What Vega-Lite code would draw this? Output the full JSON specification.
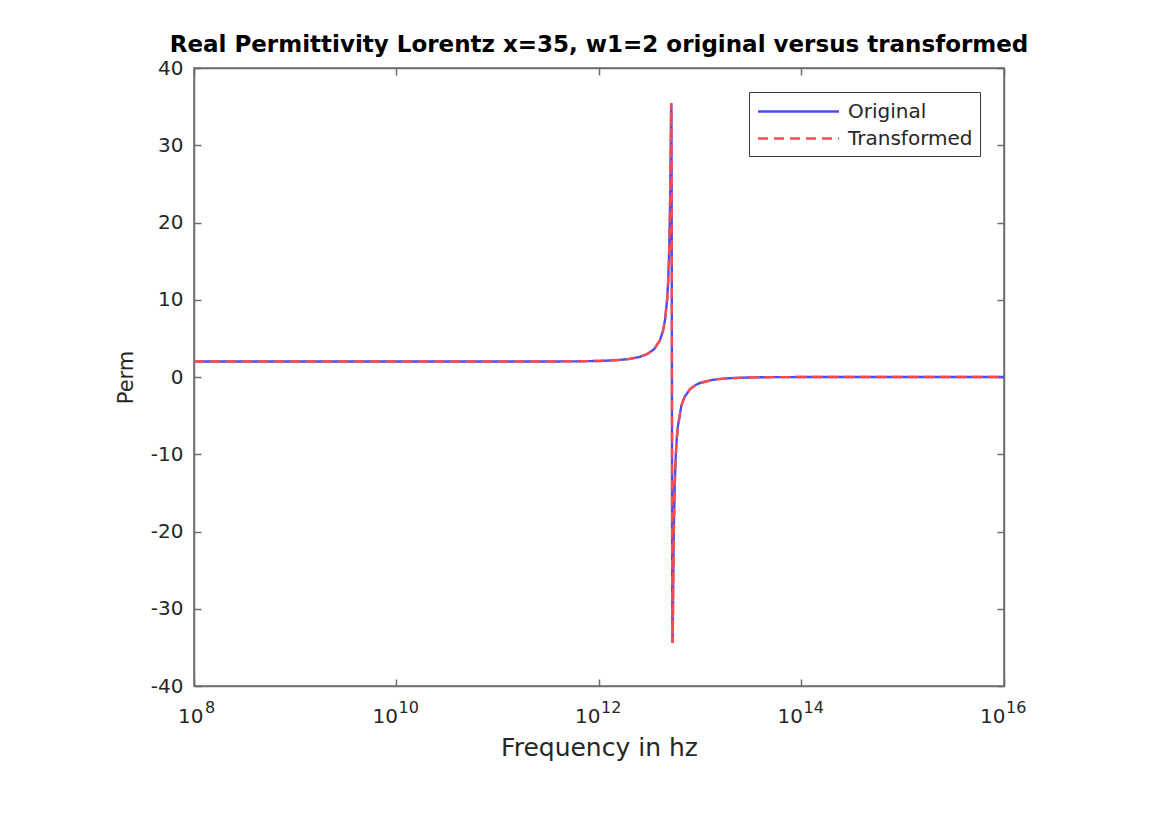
{
  "$schema": "https://vega.github.io/schema/vega-lite/v6.json",
  "width": 810,
  "height": 618,
  "autosize": {"type": "none"},
  "padding": {"left": 194, "top": 68, "right": 147, "bottom": 154},
  "background": "white",
  "config": {
    "font": "DejaVu Sans",
    "view": {"stroke": "#6e6e6e", "strokeWidth": 1.5},
    "axis": {
      "grid": false,
      "domainColor": "#6e6e6e",
      "domainWidth": 1.5,
      "tickColor": "#6e6e6e",
      "tickWidth": 1.5,
      "labelColor": "#262626",
      "titleColor": "#262626",
      "labelFont": "DejaVu Sans",
      "titleFont": "DejaVu Sans",
      "labelFontSize": 20,
      "titleFontSize": 22,
      "titleFontWeight": "normal"
    }
  },
  "title": {
    "text": "Real Permittivity Lorentz x=35, w1=2 original versus transformed",
    "font": "DejaVu Sans",
    "fontSize": 23,
    "fontWeight": "bold",
    "color": "#000000",
    "anchor": "middle",
    "offset": 1
  },
  "datasets": {
    "perm": [
      {"f": 1e8, "Original": 2.0, "Transformed": 2.0},
      {"f": 1e9, "Original": 2.0, "Transformed": 2.0},
      {"f": 1e10, "Original": 2.0, "Transformed": 2.0},
      {"f": 3e10, "Original": 2.0001, "Transformed": 2.0001},
      {"f": 1e11, "Original": 2.0007, "Transformed": 2.0007},
      {"f": 3e11, "Original": 2.0066, "Transformed": 2.0066},
      {"f": 6e11, "Original": 2.0265, "Transformed": 2.0265},
      {"f": 1e12, "Original": 2.075, "Transformed": 2.075},
      {"f": 1.5e12, "Original": 2.178, "Transformed": 2.178},
      {"f": 2e12, "Original": 2.339, "Transformed": 2.339},
      {"f": 2.5e12, "Original": 2.587, "Transformed": 2.587},
      {"f": 3e12, "Original": 2.972, "Transformed": 2.972},
      {"f": 3.5e12, "Original": 3.6, "Transformed": 3.6},
      {"f": 4e12, "Original": 4.756, "Transformed": 4.756},
      {"f": 4.3e12, "Original": 6.045, "Transformed": 6.045},
      {"f": 4.5e12, "Original": 7.475, "Transformed": 7.475},
      {"f": 4.7e12, "Original": 9.905, "Transformed": 9.905},
      {"f": 4.8e12, "Original": 11.89, "Transformed": 11.89},
      {"f": 4.9e12, "Original": 14.88, "Transformed": 14.88},
      {"f": 5.0e12, "Original": 19.81, "Transformed": 19.81},
      {"f": 5.05e12, "Original": 23.58, "Transformed": 23.58},
      {"f": 5.1e12, "Original": 28.58, "Transformed": 28.58},
      {"f": 5.13e12, "Original": 32.04, "Transformed": 32.04},
      {"f": 5.15e12, "Original": 34.15, "Transformed": 34.15},
      {"f": 5.17e12, "Original": 35.44, "Transformed": 35.44},
      {"f": 5.19e12, "Original": 34.57, "Transformed": 34.57},
      {"f": 5.21e12, "Original": 29.35, "Transformed": 29.35},
      {"f": 5.23e12, "Original": 17.51, "Transformed": 17.51},
      {"f": 5.25e12, "Original": 0.0, "Transformed": 0.0},
      {"f": 5.27e12, "Original": -17.32, "Transformed": -17.32},
      {"f": 5.29e12, "Original": -28.77, "Transformed": -28.77},
      {"f": 5.31e12, "Original": -33.71, "Transformed": -33.71},
      {"f": 5.33e12, "Original": -34.43, "Transformed": -34.43},
      {"f": 5.35e12, "Original": -33.06, "Transformed": -33.06},
      {"f": 5.38e12, "Original": -29.75, "Transformed": -29.75},
      {"f": 5.4e12, "Original": -27.44, "Transformed": -27.44},
      {"f": 5.45e12, "Original": -22.48, "Transformed": -22.48},
      {"f": 5.5e12, "Original": -18.74, "Transformed": -18.74},
      {"f": 5.6e12, "Original": -13.84, "Transformed": -13.84},
      {"f": 5.7e12, "Original": -10.86, "Transformed": -10.86},
      {"f": 5.85e12, "Original": -8.136, "Transformed": -8.136},
      {"f": 6e12, "Original": -6.46, "Transformed": -6.46},
      {"f": 6.5e12, "Original": -3.737, "Transformed": -3.737},
      {"f": 7e12, "Original": -2.565, "Transformed": -2.565},
      {"f": 8e12, "Original": -1.511, "Transformed": -1.511},
      {"f": 9e12, "Original": -1.031, "Transformed": -1.031},
      {"f": 1e13, "Original": -0.761, "Transformed": -0.761},
      {"f": 1.3e13, "Original": -0.39, "Transformed": -0.39},
      {"f": 1.5e13, "Original": -0.279, "Transformed": -0.279},
      {"f": 2e13, "Original": -0.148, "Transformed": -0.148},
      {"f": 3e13, "Original": -0.0632, "Transformed": -0.0632},
      {"f": 5e13, "Original": -0.0223, "Transformed": -0.0223},
      {"f": 1e14, "Original": -0.0055, "Transformed": -0.0055},
      {"f": 3e14, "Original": -0.0006, "Transformed": -0.0006},
      {"f": 1e15, "Original": -0.0001, "Transformed": -0.0001},
      {"f": 1e16, "Original": 0.0, "Transformed": 0.0}
    ],
    "ticks": [
      {"f": 1e8, "e": "8"},
      {"f": 1e10, "e": "10"},
      {"f": 1e12, "e": "12"},
      {"f": 1e14, "e": "14"},
      {"f": 1e16, "e": "16"}
    ]
  },
  "layer": [
    {
      "data": {"name": "perm"},
      "transform": [
        {"fold": ["Original", "Transformed"], "as": ["series", "perm"]},
        {"filter": "datum.series == 'Original'"}
      ],
      "mark": {"type": "line", "strokeWidth": 2.4, "clip": true},
      "encoding": {
        "x": {
          "field": "f",
          "type": "quantitative",
          "scale": {"type": "log", "domain": [1e8, 1e16], "nice": false},
          "axis": {
            "orient": "bottom",
            "values": [1e8, 1e10, 1e12, 1e14, 1e16],
            "labelExpr": "'10'",
            "labelAlign": "right",
            "labelOffset": {"condition": {"test": "datum.value < 1e9", "value": 9}, "value": 1},
            "tickSize": -7,
            "labelPadding": 27,
            "labelFlush": false,
            "labelOverlap": false,
            "title": "Frequency in hz",
            "titleFontSize": 25,
            "titlePadding": 9
          }
        },
        "y": {
          "field": "perm",
          "type": "quantitative",
          "scale": {"domain": [-40, 40], "nice": false},
          "axis": {
            "orient": "left",
            "values": [-40, -30, -20, -10, 0, 10, 20, 30, 40],
            "labelExpr": "datum.value + ''",
            "tickSize": -7,
            "labelPadding": 18,
            "labelFlush": false,
            "title": "Perm",
            "titleFontSize": 21,
            "titlePadding": 14
          }
        },
        "color": {
          "field": "series",
          "type": "nominal",
          "scale": {"domain": ["Original", "Transformed"], "range": ["#4b4bff", "#ff4b4b"]},
          "legend": {
            "title": null,
            "orient": "top-right",
            "offset": 24,
            "symbolType": "M-3.68,0H3.68",
            "symbolSize": 484,
            "symbolOffset": 30,
            "symbolStrokeWidth": 2.4,
            "labelOffset": 37,
            "labelFontSize": 20,
            "labelColor": "#262626",
            "labelFont": "DejaVu Sans",
            "rowPadding": 4,
            "padding": 7,
            "strokeColor": "#3a3a3a",
            "fillColor": "white"
          }
        },
        "strokeDash": {
          "field": "series",
          "type": "nominal",
          "scale": {"domain": ["Original", "Transformed"], "range": [[1, 0], [10, 6]]},
          "legend": null
        }
      }
    },
    {
      "data": {"name": "perm"},
      "transform": [
        {"fold": ["Original", "Transformed"], "as": ["series", "perm"]},
        {"filter": "datum.series == 'Transformed'"}
      ],
      "mark": {"type": "line", "strokeWidth": 2.4, "clip": true},
      "encoding": {
        "x": {
          "field": "f",
          "type": "quantitative",
          "axis": {
            "orient": "top",
            "values": [1e8, 1e10, 1e12, 1e14, 1e16],
            "tickSize": -7,
            "labels": false,
            "title": null
          }
        },
        "y": {
          "field": "perm",
          "type": "quantitative",
          "axis": {
            "orient": "right",
            "values": [-40, -30, -20, -10, 0, 10, 20, 30, 40],
            "tickSize": -7,
            "labels": false,
            "title": null
          }
        },
        "color": {"field": "series", "type": "nominal"},
        "strokeDash": {"field": "series", "type": "nominal", "legend": null}
      }
    },
    {
      "data": {"name": "ticks"},
      "transform": [{"filter": "datum.f < 1e9"}],
      "mark": {"type": "text", "align": "left", "baseline": "top", "dx": 11, "dy": 14, "fontSize": 16, "font": "DejaVu Sans", "color": "#262626"},
      "encoding": {
        "x": {"field": "f", "type": "quantitative", "axis": null},
        "y": {"datum": -40, "type": "quantitative", "axis": null},
        "text": {"field": "e"}
      }
    },
    {
      "data": {"name": "ticks"},
      "transform": [{"filter": "datum.f > 1e9"}],
      "mark": {"type": "text", "align": "left", "baseline": "top", "dx": 2, "dy": 14, "fontSize": 16, "font": "DejaVu Sans", "color": "#262626"},
      "encoding": {
        "x": {"field": "f", "type": "quantitative", "axis": null},
        "y": {"datum": -40, "type": "quantitative", "axis": null},
        "text": {"field": "e"}
      }
    }
  ],
  "resolve": {"axis": {"x": "independent", "y": "independent"}}
}
